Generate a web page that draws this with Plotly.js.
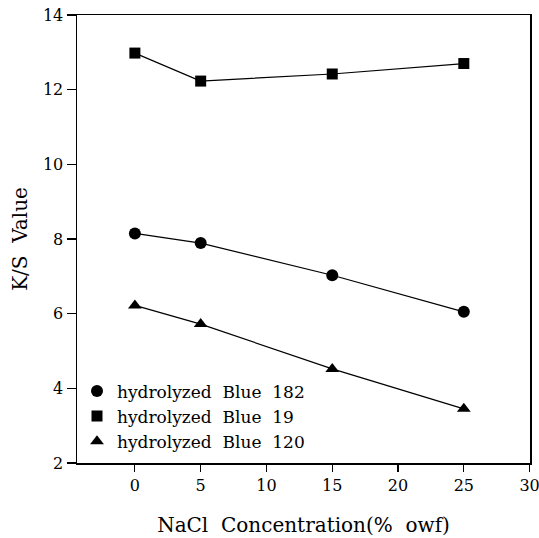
<!DOCTYPE html>
<html>
<head>
<meta charset="utf-8">
<script src="https://cdn.plot.ly/plotly-3.0.1.min.js"></script>
<style>html,body{margin:0;padding:0;background:#fff;}</style>
</head>
<body>
<div id="chart" style="width:539px;height:538px;"></div>
<script>
const nacl = [0, 5, 15, 25];
const blue182 = [8.15, 7.89, 7.03, 6.05];
const blue19 = [12.98, 12.23, 12.42, 12.70];
const blue120 = [6.22, 5.72, 4.52, 3.45];
const seriesNames = ["hydrolyzed  Blue  182", "hydrolyzed  Blue  19", "hydrolyzed  Blue  120"];
const xTicks = [0, 5, 10, 15, 20, 25, 30];
const yTicks = [2, 4, 6, 8, 10, 12, 14];

const serif = "'DejaVu Serif', 'Liberation Serif', serif";
const series = [
  {y: blue182, name: seriesNames[0], sym: "circle", size: 12},
  {y: blue19, name: seriesNames[1], sym: "square", size: 11},
  {y: blue120, name: seriesNames[2], sym: "triangle-up", size: 12}
];
const data = [];
series.forEach(s => {
  data.push({x: nacl, y: s.y, type: "scatter", mode: "lines", showlegend: false,
             line: {color: "#000", width: 1.2}, hoverinfo: "skip"});
});
series.forEach(s => {
  data.push({x: nacl, y: s.y, name: s.name, type: "scatter", mode: "markers",
             marker: {symbol: s.sym, size: s.size, color: "#000"}});
});
const layout = {
  width: 539, height: 538,
  margin: {l: 77, r: 9, t: 15, b: 75},
  paper_bgcolor: "#fff", plot_bgcolor: "#fff",
  font: {family: serif, color: "#000", size: 15},
  showlegend: true,
  legend: {x: 0, y: 0.008, xanchor: "left", yanchor: "bottom", bgcolor: "rgba(0,0,0,0)",
           font: {family: serif, size: 17, color: "#000"}, tracegroupgap: 0},
  xaxis: {
    range: [-4.4, 30.03], tickvals: xTicks, ticktext: xTicks.map(String),
    ticklabeloverflow: "allow",
    showgrid: false, zeroline: false, showline: true, linecolor: "#000", linewidth: 1.5,
    mirror: true, ticks: "outside", ticklen: 7, tickwidth: 1.2, tickcolor: "#000",
    tickfont: {family: serif, size: 16},
    title: {text: "NaCl  Concentration(%  owf)", font: {family: serif, size: 20}, standoff: 24}
  },
  yaxis: {
    range: [2, 14], tickvals: yTicks, ticktext: yTicks.map(String),
    showgrid: false, zeroline: false, showline: true, linecolor: "#000", linewidth: 1.5,
    mirror: true, ticks: "outside", ticklen: 9, tickwidth: 1.2, tickcolor: "#000",
    tickfont: {family: serif, size: 16},
    title: {text: "K/S  Value", font: {family: serif, size: 20}, standoff: 10}
  }
};
Plotly.newPlot("chart", data, layout, {displayModeBar: false, staticPlot: true});
</script>
</body>
</html>
